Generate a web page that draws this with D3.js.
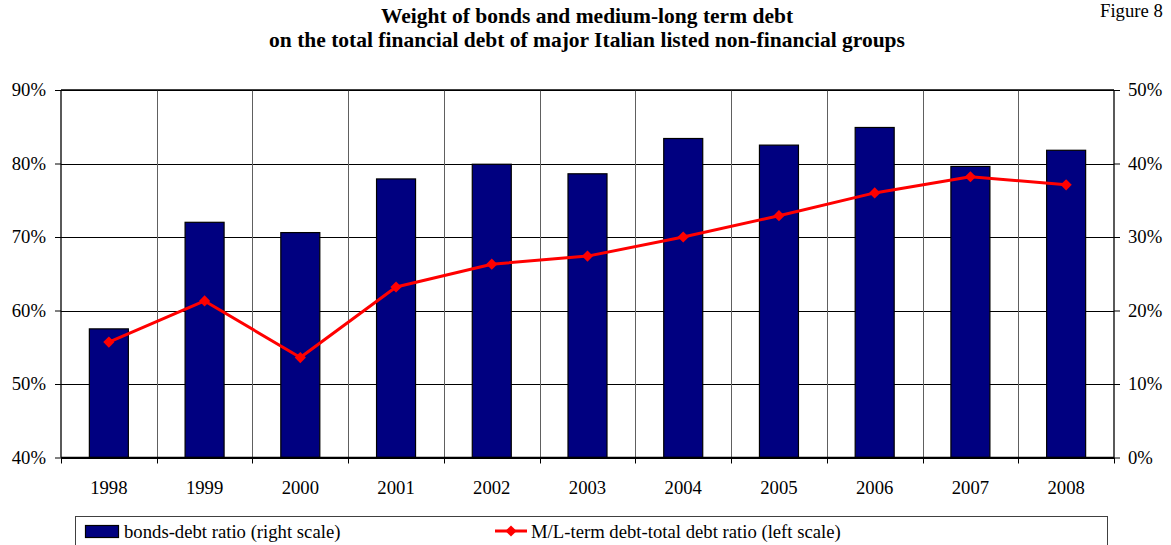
<!DOCTYPE html>
<html>
<head>
<meta charset="utf-8">
<script src="https://cdn.jsdelivr.net/npm/d3@7"></script>
<style>
  html, body { margin: 0; padding: 0; background: #fff; }
  svg { display: block; }
  svg text { font-family: "Times New Roman", "Liberation Serif", Times, "DejaVu Serif", serif !important; fill: #000; }
</style>
</head>
<body>
<svg id="chart" width="1171" height="545"></svg>
<script>
// Years on the category axis
const years = ["1998", "1999", "2000", "2001", "2002", "2003", "2004", "2005", "2006", "2007", "2008"];
// Bonds-debt ratio, percent (right scale)
const bondsRatio = [17.5, 32.0, 30.6, 37.9, 39.9, 38.6, 43.4, 42.5, 44.9, 39.6, 41.8];
// Medium/long-term debt over total debt, percent (left scale)
const mlTermRatio = [55.7, 61.3, 53.6, 63.2, 66.3, 67.4, 70.0, 72.9, 76.0, 78.2, 77.1];
// Axis ticks
const leftTicks = [40, 50, 60, 70, 80, 90];
const rightTicks = [0, 10, 20, 30, 40, 50];
const titleLines = [
  "Weight of bonds and medium-long term debt",
  "on the total financial debt of major Italian listed non-financial groups"
];
const legendLabels = ["bonds-debt ratio (right scale)", "M/L-term debt-total debt ratio (left scale)"];

const serif = "'Times New Roman', 'Liberation Serif', Times, serif";
const fs = 18.7;
const svg = d3.select("#chart");
const plot = { left: 61, right: 1114, top: 90, bottom: 457.5 };

const x = d3.scaleBand().domain(years).range([plot.left, plot.right]).paddingInner(0).paddingOuter(0);
const yLeft = d3.scaleLinear().domain([40, 90]).range([plot.bottom, plot.top]);
const yRight = d3.scaleLinear().domain([0, 50]).range([plot.bottom, plot.top]);

// Figure label in the top-right corner
svg.append("text").attr("x", 1100).attr("y", 17).attr("font-size", fs).style("font-family", serif).text("Figure 8");

// Title
svg.append("g").selectAll("text").data(titleLines).join("text")
  .attr("x", 587).attr("y", (d, i) => 23 + i * 24)
  .attr("text-anchor", "middle").attr("font-size", 21.5).attr("font-weight", "bold")
  .style("font-family", serif)
  .text(d => d);

// Horizontal gridlines
svg.append("g").selectAll("line").data(leftTicks).join("line")
  .attr("x1", plot.left).attr("x2", plot.right)
  .attr("y1", d => Math.round(yLeft(d)) + 0.5).attr("y2", d => Math.round(yLeft(d)) + 0.5)
  .attr("stroke", "#000").attr("stroke-width", 1);

// Vertical gridlines between categories
const bounds = years.slice(1).map(y => x(y));
svg.append("g").selectAll("line").data(bounds).join("line")
  .attr("x1", d => Math.round(d) + 0.5).attr("x2", d => Math.round(d) + 0.5)
  .attr("y1", plot.top).attr("y2", plot.bottom)
  .attr("stroke", "#606060").attr("stroke-width", 1);

// Bars (right scale)
const barW = 39;
svg.append("g").selectAll("rect").data(years).join("rect")
  .attr("x", (d) => x(d) + x.bandwidth() / 2 - barW / 2)
  .attr("y", (d, i) => yRight(bondsRatio[i]))
  .attr("width", barW)
  .attr("height", (d, i) => plot.bottom - yRight(bondsRatio[i]))
  .attr("fill", "#000080").attr("stroke", "#000").attr("stroke-width", 1.2);

// Axes
const leftAxis = d3.axisLeft(yLeft).tickValues(leftTicks).tickFormat(d => d + "%").tickSize(6).tickPadding(9);
const rightAxis = d3.axisRight(yRight).tickValues(rightTicks).tickFormat(d => d + "%").tickSize(6).tickPadding(8);
const bottomAxis = d3.axisBottom(x).tickSize(0);

function styleAxis(g) {
  g.attr("font-family", serif).attr("font-size", fs);
  g.select(".domain").attr("stroke", "#000").attr("stroke-width", 1.3);
  g.selectAll(".tick line").attr("stroke", "#000");
  g.selectAll(".tick text").style("font-family", serif).attr("font-size", fs).attr("fill", "#000");
}
svg.append("g").attr("transform", `translate(${plot.left},0)`).call(leftAxis).call(styleAxis)
  .call(g => g.select(".domain").attr("d", `M0,${plot.top}V${plot.bottom}`));
svg.append("g").attr("transform", `translate(${plot.right},0)`).call(rightAxis).call(styleAxis)
  .call(g => g.select(".domain").attr("d", `M0,${plot.top}V${plot.bottom}`));
svg.append("g").attr("transform", `translate(0,${plot.bottom})`).call(bottomAxis).call(styleAxis)
  .call(g => g.select(".domain").attr("d", `M${plot.left},0H${plot.right}`))
  .call(g => g.selectAll(".tick text").attr("y", 36).attr("dy", null));

// Tick marks under the category axis at each boundary
svg.append("g").selectAll("line").data([plot.left, ...bounds, plot.right]).join("line")
  .attr("x1", d => Math.round(d) + 0.5).attr("x2", d => Math.round(d) + 0.5)
  .attr("y1", plot.bottom).attr("y2", plot.bottom + 6)
  .attr("stroke", "#000");

// Top border of the plot
svg.append("line").attr("x1", plot.left).attr("x2", plot.right)
  .attr("y1", plot.top).attr("y2", plot.top).attr("stroke", "#000").attr("stroke-width", 1.3);

// M/L-term line (left scale)
const cx = d => x(d) + x.bandwidth() / 2;
const line = d3.line().x(d => cx(d)).y((d, i) => yLeft(mlTermRatio[i]));
svg.append("path").datum(years).attr("d", line)
  .attr("fill", "none").attr("stroke", "#ff0000").attr("stroke-width", 3).attr("stroke-linejoin", "round");

const diamond = d3.symbol().type(d3.symbolDiamond2).size(80);
svg.append("g").selectAll("path").data(years).join("path")
  .attr("transform", (d, i) => `translate(${cx(d)},${yLeft(mlTermRatio[i])})`)
  .attr("d", diamond).attr("fill", "#ff0000");

// Legend
const lg = svg.append("g");
lg.append("rect").attr("x", 75.5).attr("y", 516.5).attr("width", 1032).attr("height", 40)
  .attr("fill", "#fff").attr("stroke", "#404040").attr("stroke-width", 1);
lg.append("rect").attr("x", 85.5).attr("y", 525.5).attr("width", 33).attr("height", 12)
  .attr("fill", "#000080").attr("stroke", "#000").attr("stroke-width", 1.2);
lg.append("text").attr("x", 124).attr("y", 538).attr("font-size", fs).style("font-family", serif).text(legendLabels[0]);
lg.append("line").attr("x1", 495).attr("x2", 527).attr("y1", 531).attr("y2", 531)
  .attr("stroke", "#ff0000").attr("stroke-width", 3);
lg.append("path").attr("transform", "translate(511,531)").attr("d", diamond).attr("fill", "#ff0000");
lg.append("text").attr("x", 531).attr("y", 538).attr("font-size", fs).style("font-family", serif).text(legendLabels[1]);
</script>
</body>
</html>
